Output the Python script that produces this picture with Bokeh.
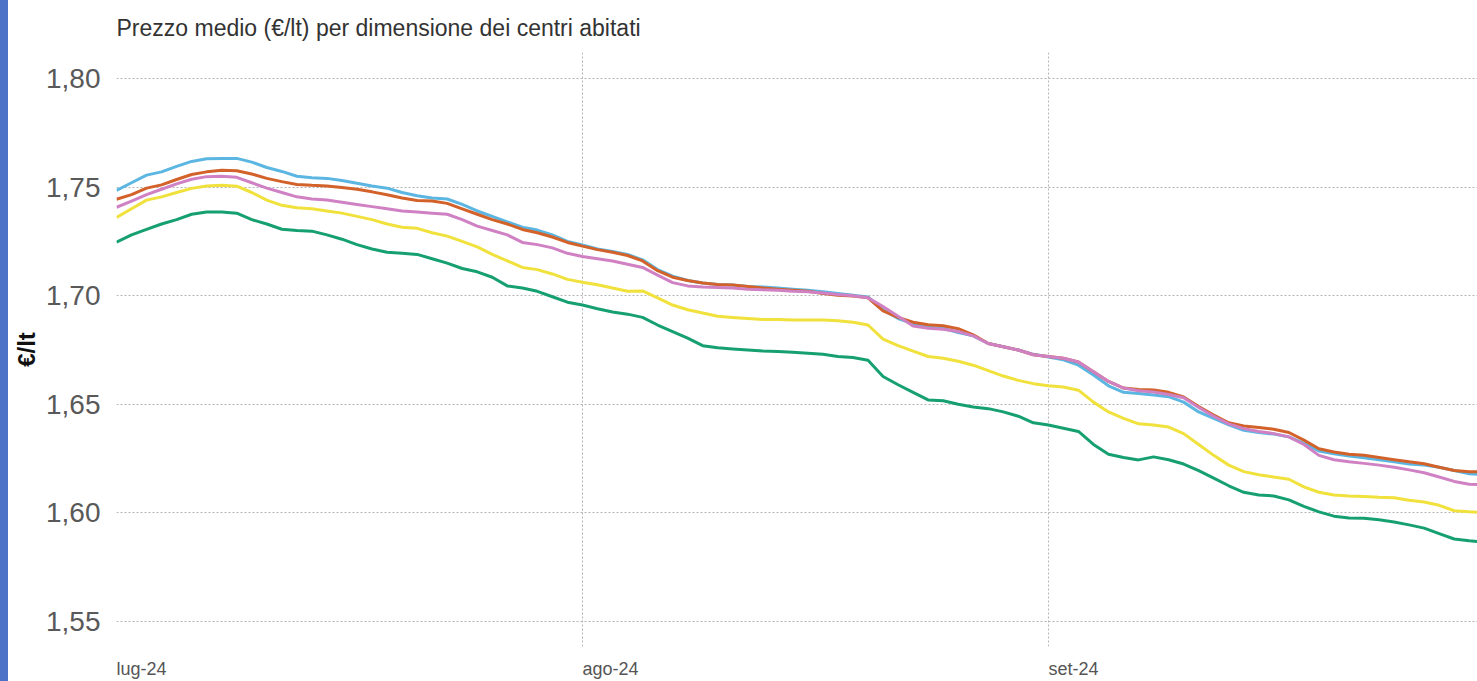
import pandas as pd
from bokeh.plotting import figure
from bokeh.models import FixedTicker, CustomJSTickFormatter, Range1d, Div
from bokeh.layouts import row
from bokeh.embed import file_html
from bokeh.resources import INLINE

# ---- data (daily, 1 Jul 2024 .. 30 Sep 2024) ----
dates = pd.date_range("2024-07-01", "2024-09-30", freq="D")

serie_azzurra = [
    1.7485, 1.752, 1.7555, 1.757, 1.7595, 1.7618, 1.763, 1.7632, 1.7632, 1.7615,
    1.759, 1.7572, 1.755, 1.7543, 1.754, 1.753, 1.7518, 1.7505, 1.7495, 1.7475,
    1.746, 1.745, 1.7445, 1.742, 1.739, 1.7365, 1.734, 1.7315, 1.7302, 1.728,
    1.725, 1.7233, 1.7215, 1.7203, 1.719, 1.7165, 1.712, 1.709, 1.707, 1.7058,
    1.7052, 1.7049, 1.7042, 1.704, 1.7035, 1.703, 1.7025, 1.7018, 1.701, 1.7002,
    1.6994, 1.6935, 1.6895, 1.687, 1.6855, 1.685, 1.683, 1.6815, 1.678, 1.6765,
    1.675, 1.673, 1.6718, 1.6705, 1.668, 1.6635, 1.6585, 1.6555, 1.655, 1.6543,
    1.6535, 1.651, 1.6465, 1.6435, 1.6405, 1.638, 1.637, 1.6363, 1.635, 1.632,
    1.6285, 1.6272, 1.6262, 1.6254, 1.6245, 1.6235, 1.6225, 1.622, 1.621, 1.6195,
    1.618, 1.6176]

serie_arancio = [
    1.7444, 1.7465, 1.7495, 1.751, 1.7535, 1.7558, 1.757, 1.7577, 1.7575, 1.756,
    1.754, 1.7525, 1.7512, 1.7508, 1.7505, 1.7498, 1.749, 1.7478, 1.7465, 1.745,
    1.7438, 1.7436, 1.7425, 1.740, 1.7375, 1.735, 1.733, 1.7305, 1.729, 1.727,
    1.7245, 1.7228, 1.7212, 1.720, 1.7185, 1.716, 1.7115, 1.7085, 1.707, 1.7058,
    1.7052, 1.7049, 1.7042, 1.7035, 1.703, 1.7025, 1.702, 1.701, 1.7002, 1.6998,
    1.699, 1.693, 1.690, 1.6878, 1.6866, 1.6862, 1.6848, 1.682, 1.678, 1.6765,
    1.675, 1.6728, 1.672, 1.6712, 1.6695, 1.665, 1.6605, 1.6575, 1.6568, 1.6566,
    1.6555, 1.6534, 1.649, 1.645, 1.6415, 1.640, 1.6393, 1.6385, 1.637, 1.6335,
    1.6295, 1.628, 1.627, 1.6265, 1.6255, 1.6245, 1.6235, 1.6226, 1.621, 1.6195,
    1.619, 1.6188]

serie_rosa = [
    1.7407, 1.7435, 1.7465, 1.749, 1.7515, 1.7536, 1.7548, 1.755, 1.7545, 1.752,
    1.7495, 1.7475, 1.7455, 1.7445, 1.744, 1.743, 1.742, 1.741, 1.740, 1.739,
    1.7385, 1.738, 1.7375, 1.735, 1.732, 1.730, 1.728, 1.7245, 1.7235, 1.722,
    1.7195, 1.718, 1.717, 1.716, 1.7145, 1.713, 1.7095, 1.706, 1.7045, 1.704,
    1.7038, 1.7035, 1.703, 1.7027, 1.7025, 1.702, 1.7018, 1.7012, 1.7005, 1.700,
    1.699, 1.695, 1.6905, 1.686, 1.685, 1.6845, 1.6835, 1.6815, 1.678, 1.6765,
    1.675, 1.6728, 1.672, 1.6712, 1.6695, 1.665, 1.6605, 1.6575, 1.6562, 1.6557,
    1.6545, 1.653, 1.6485, 1.6445, 1.641, 1.6388, 1.6375, 1.6365, 1.635, 1.6315,
    1.6265, 1.6245, 1.6235, 1.6228, 1.622, 1.621, 1.6198, 1.6185, 1.6165, 1.6145,
    1.6132, 1.613]

serie_gialla = [
    1.736, 1.740, 1.744, 1.7455, 1.7475, 1.7494, 1.7505, 1.7508, 1.7504, 1.7475,
    1.744, 1.7416, 1.7405, 1.740, 1.739, 1.738, 1.7365, 1.735, 1.733, 1.7315,
    1.731, 1.729, 1.7274, 1.725, 1.7225, 1.719, 1.716, 1.713, 1.712, 1.710,
    1.7075, 1.7062, 1.705, 1.7035, 1.702, 1.7022, 1.699, 1.6957, 1.6935, 1.692,
    1.6905, 1.690, 1.6895, 1.689, 1.689, 1.6888, 1.6888, 1.6888, 1.6885, 1.6878,
    1.6865, 1.680, 1.677, 1.6745, 1.672, 1.6712, 1.6698, 1.668, 1.6655, 1.663,
    1.661, 1.6595, 1.6585, 1.658, 1.6565, 1.651, 1.6465, 1.6435, 1.641, 1.6405,
    1.6395, 1.6365, 1.6315, 1.6265, 1.622, 1.619, 1.6176, 1.6165, 1.6155, 1.612,
    1.6095, 1.6082, 1.6078, 1.6075, 1.6072, 1.607, 1.6058, 1.605, 1.6035, 1.601,
    1.6005, 1.6002]

serie_verde = [
    1.7246, 1.728, 1.7305, 1.733, 1.735, 1.7375, 1.7385, 1.7385, 1.738, 1.735,
    1.733, 1.7306, 1.730, 1.7297, 1.728, 1.726, 1.7235, 1.7215, 1.720, 1.7195,
    1.719, 1.717, 1.715, 1.7125, 1.711, 1.7085, 1.7045, 1.7035, 1.702, 1.6995,
    1.697, 1.6957, 1.694, 1.6925, 1.6915, 1.690, 1.6865, 1.6835, 1.6805, 1.677,
    1.676, 1.6755, 1.675, 1.6745, 1.6743, 1.674, 1.6735, 1.673, 1.672, 1.6715,
    1.6703, 1.6628, 1.659, 1.6555, 1.652, 1.6516, 1.650, 1.6488, 1.648, 1.6465,
    1.6445, 1.6415, 1.6405, 1.639, 1.6375, 1.6315, 1.627, 1.6255, 1.6244, 1.6258,
    1.6245, 1.6225, 1.6195, 1.616, 1.6125, 1.6095, 1.6082, 1.6078, 1.606, 1.603,
    1.6005, 1.5985, 1.5977, 1.5975, 1.5968, 1.5958, 1.5945, 1.593, 1.5905, 1.588,
    1.5872, 1.5865]

month_ticks = ["2024-07-01", "2024-08-01", "2024-09-01"]
month_labels = ["lug-24", "ago-24", "set-24"]
y_ticks = [1.55, 1.60, 1.65, 1.70, 1.75, 1.80]

title_text = "Prezzo medio (€/lt) per dimensione dei centri abitati"
y_label = "€/lt"

# ---- layout constants ----
FONT = "Liberation Sans"
STRIP = 8
W, H = 1477 - STRIP, 681
BORDER_L, BORDER_T, BORDER_B = 116 - STRIP, 52, 34
DAYS_SHOWN = 90.55
X_LABEL_PX = 18

x_start = pd.Timestamp("2024-07-01")
x_end = x_start + pd.Timedelta(days=DAYS_SHOWN)
y_min, y_max = 1.5385, 1.81195

p = figure(width=W, height=H, x_axis_type="datetime",
           output_backend="svg", toolbar_location=None,
           x_range=Range1d(x_start, x_end), y_range=Range1d(y_min, y_max),
           min_border_left=BORDER_L, min_border_right=0,
           min_border_top=BORDER_T, min_border_bottom=BORDER_B, margin=0)
p.outline_line_color = None
p.background_fill_color = "white"
p.border_fill_color = "white"

p.title.text = title_text
p.title.text_font = FONT
p.title.text_font_size = "23px"
p.title.text_font_style = "normal"
p.title.text_color = "#333333"
p.title.align = "left"
p.title.standoff = 24

styles = [
    (serie_verde, "#16a070"),
    (serie_gialla, "#f0e13c"),
    (serie_azzurra, "#5cb6e2"),
    (serie_arancio, "#d2622a"),
    (serie_rosa, "#d081c4"),
]
for vals, col in styles:
    p.line(dates, vals, line_color=col, line_width=3)

# gridlines at month starts; labels left-aligned to them (label centre shifted
# right by half of its estimated text width)
CHAR_W = {"l": .222, "u": .556, "g": .556, "-": .333, "a": .556, "o": .556,
          "s": .5, "e": .556, "t": .278}
px_per_ms = (W - BORDER_L) / (DAYS_SHOWN * 86400000.0)
tick_ms = [pd.Timestamp(t).value / 1e6 for t in month_ticks]
label_ms = []
for t, lab in zip(tick_ms, month_labels):
    width_px = sum(CHAR_W.get(c, .556) for c in lab) * X_LABEL_PX
    label_ms.append(t + (width_px / 2.0) / px_per_ms)

p.xgrid.ticker = FixedTicker(ticks=tick_ms)
p.xaxis.ticker = FixedTicker(ticks=label_ms)
p.xaxis.major_label_overrides = {t: l for t, l in zip(label_ms, month_labels)}
p.xaxis.major_label_text_font = FONT
p.xaxis.major_label_text_font_size = f"{X_LABEL_PX}px"
p.xaxis.major_label_text_color = "#555555"
p.xaxis.major_label_standoff = 12
p.xaxis.axis_line_color = None
p.xaxis.major_tick_line_color = None
p.xaxis.minor_tick_line_color = None
p.xaxis.major_tick_out = 0
p.xaxis.major_tick_in = 0

p.yaxis.ticker = FixedTicker(ticks=y_ticks)
p.yaxis.formatter = CustomJSTickFormatter(code="return tick.toFixed(2).replace('.', ',');")
p.yaxis.major_label_text_font = FONT
p.yaxis.major_label_text_font_size = "28px"
p.yaxis.major_label_text_color = "#595959"
p.yaxis.major_label_standoff = 16
p.yaxis.axis_line_color = None
p.yaxis.major_tick_line_color = None
p.yaxis.minor_tick_line_color = None
p.yaxis.major_tick_out = 0
p.yaxis.major_tick_in = 0
p.yaxis.axis_label = y_label
p.yaxis.axis_label_text_font = FONT
p.yaxis.axis_label_text_font_size = "24px"
p.yaxis.axis_label_text_font_style = "bold"
p.yaxis.axis_label_text_color = "#111111"
p.yaxis.axis_label_standoff = 3

for g in (p.xgrid, p.ygrid):
    g.grid_line_color = "#b5b5b5"
    g.grid_line_dash = "2 2"
    g.grid_line_width = 1

# blue strip along the left edge of the page
strip = Div(text="", width=STRIP, height=H, margin=0,
            styles={"background-color": "#4b72c6"})

layout = row(strip, p, spacing=0, margin=0)
open("out.html", "w").write(file_html(layout, INLINE))
